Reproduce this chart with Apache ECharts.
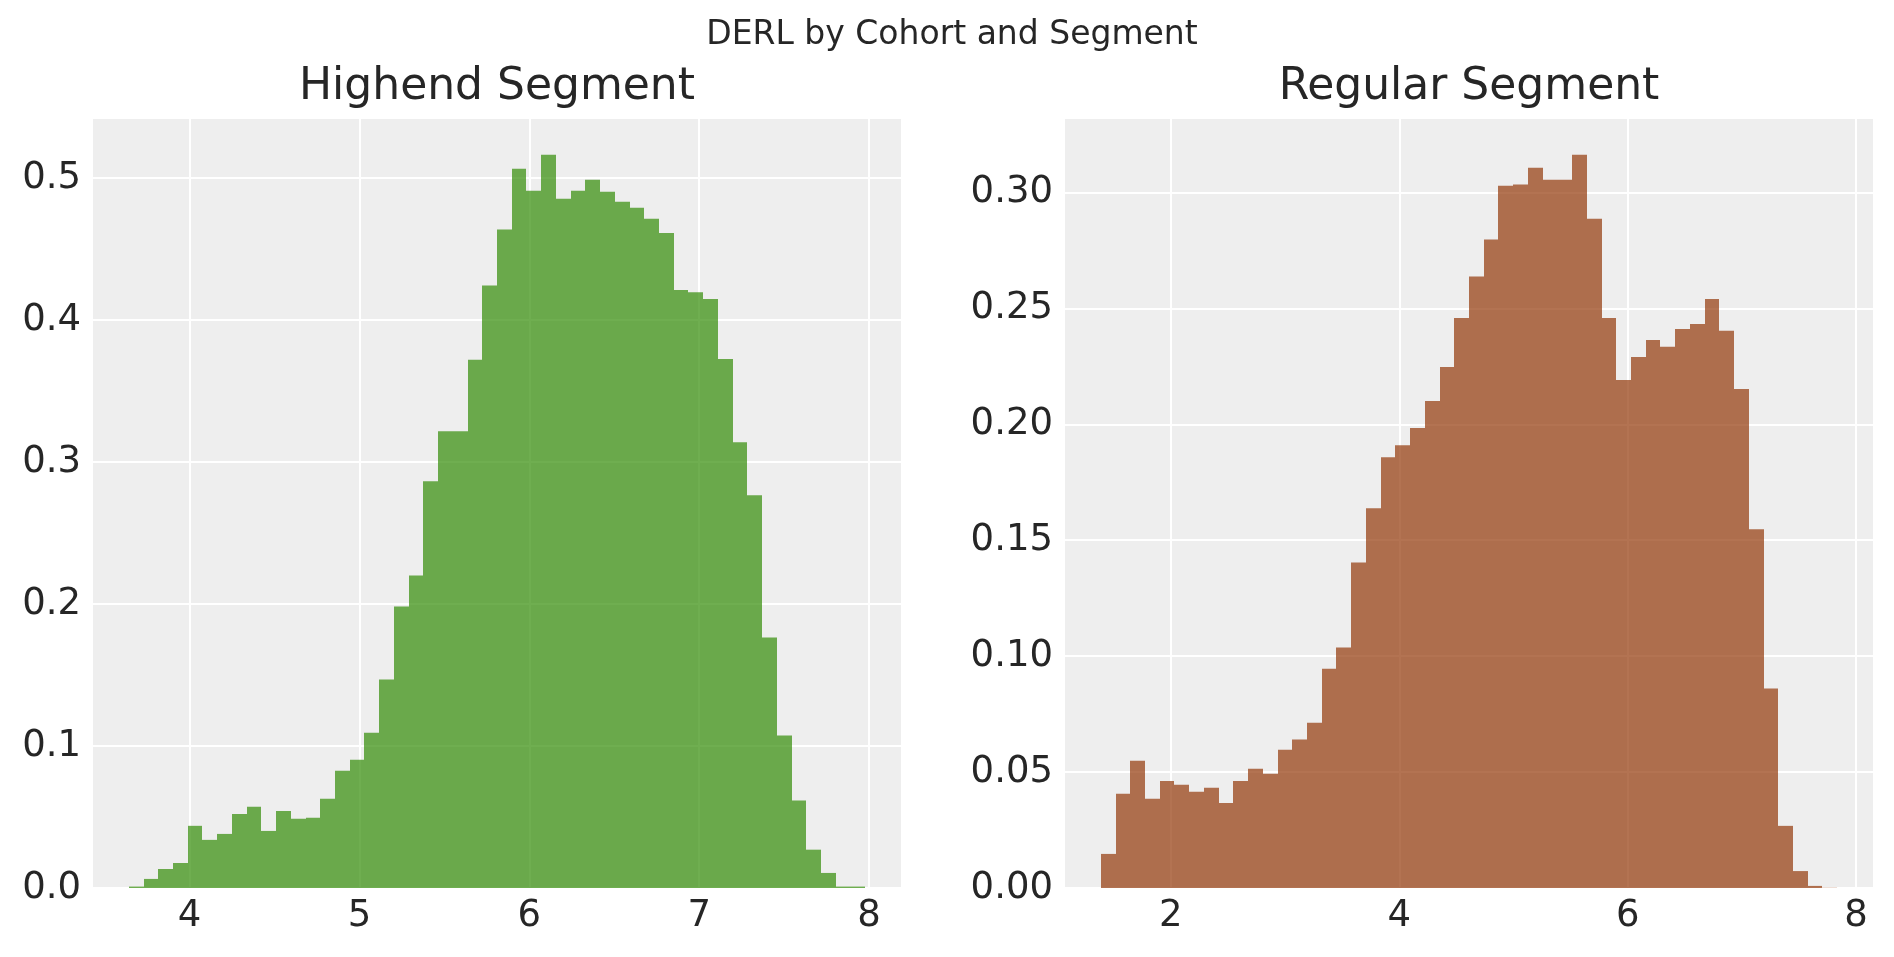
<!DOCTYPE html>
<html>
<head>
<meta charset="utf-8">
<title>DERL by Cohort and Segment</title>
<script src="https://cdn.jsdelivr.net/npm/echarts@6.0.0/dist/echarts.min.js"></script>
<style>
	html, body { margin: 0; padding: 0; background: #ffffff; }
	#chart { width: 1894px; height: 957px; }
</style>
</head>
<body>
<div id="chart"></div>
<script>
// histogram bin range (first edge, last edge) and density per bin
var highendBinRange = [3.642, 7.977];
var highendDensity = [
	0.001, 0.0064, 0.0134, 0.0176, 0.0438, 0.0339, 0.0381, 0.0522, 0.0572, 0.0402,
	0.0543, 0.0487, 0.0494, 0.0628, 0.0826, 0.0903, 0.1094, 0.1468, 0.1983, 0.2202,
	0.2865, 0.3218, 0.3218, 0.3721, 0.4244, 0.4639, 0.5067, 0.4912, 0.5166, 0.4855,
	0.4912, 0.4990, 0.4905, 0.4834, 0.4792, 0.4714, 0.4615, 0.4213, 0.4197, 0.4150,
	0.3726, 0.3140, 0.2766, 0.1764, 0.1075, 0.0616, 0.0270, 0.0106, 0.001, 0.001
];

var regularBinRange = [1.387, 7.834];
var regularDensity = [
	0.0147, 0.0406, 0.0549, 0.0385, 0.0462, 0.0445, 0.0415, 0.0432, 0.0367, 0.0462,
	0.0514, 0.0493, 0.0596, 0.0640, 0.0713, 0.0946, 0.1037, 0.1404, 0.1638, 0.1858,
	0.1910, 0.1984, 0.2100, 0.2247, 0.2459, 0.2637, 0.2797, 0.3029, 0.3034, 0.3107,
	0.3055, 0.3055, 0.3163, 0.2887, 0.2459, 0.2191, 0.2290, 0.2364, 0.2334, 0.2411,
	0.2433, 0.2541, 0.2403, 0.2152, 0.1547, 0.0860, 0.0268, 0.0073, 0.0009, 0.0001
];

var suptitle = 'DERL by Cohort and Segment';
var panelTitles = ['Highend Segment', 'Regular Segment'];
var panelColors = ['#328c06', '#933708'];

var FONT = 'DejaVu Sans';
var TEXT_COLOR = '#262626';

// turn a bin range + densities into [left edge, right edge, height] rows
function binRows(range, density) {
	var n = density.length;
	var w = (range[1] - range[0]) / n;
	return density.map(function(h, i) {
		return [range[0] + i * w, range[0] + (i + 1) * w, h];
	});
}

// matplotlib style 5% margins on x, 5% headroom on y
function xLimits(range) {
	var pad = (range[1] - range[0]) * 0.05;
	return [range[0] - pad, range[1] + pad];
}

function renderBin(color) {
	return function(params, api) {
		var p0 = api.coord([api.value(0), api.value(2)]);
		var p1 = api.coord([api.value(1), 0]);
		var x0 = Math.round(p0[0]), x1 = Math.round(p1[0]);
		return {
			type: 'rect',
			shape: { x: x0, y: p0[1], width: x1 - x0, height: p1[1] - p0[1] },
			style: { fill: color, opacity: 0.7 }
		};
	};
}

function makeXAxis(gridIndex, range, splitNumber) {
	var lim = xLimits(range);
	return {
		type: 'value',
		gridIndex: gridIndex,
		min: lim[0],
		max: lim[1],
		splitNumber: splitNumber,
		axisLine: { show: false },
		axisTick: { show: false },
		axisLabel: {
			showMinLabel: false,
			showMaxLabel: false,
			margin: 10,
			fontFamily: FONT,
			fontSize: 37,
			color: TEXT_COLOR,
			formatter: function(v) { return String(Math.round(v)); }
		},
		splitLine: { show: true, lineStyle: { color: '#ffffff', width: 2 } }
	};
}

function makeYAxis(gridIndex, density, splitNumber, digits) {
	return {
		type: 'value',
		gridIndex: gridIndex,
		min: 0,
		max: Math.max.apply(null, density) * 1.05,
		splitNumber: splitNumber,
		axisLine: { show: false },
		axisTick: { show: false },
		axisLabel: {
			showMaxLabel: false,
			margin: 11,
			padding: [5, 0, 0, 0],
			fontFamily: FONT,
			fontSize: 37,
			color: TEXT_COLOR,
			formatter: function(v) { return v.toFixed(digits); }
		},
		splitLine: { show: true, lineStyle: { color: '#ffffff', width: 2 } }
	};
}

var chart;

initChart();

function initChart() {
	chart = echarts.init(document.getElementById('chart'), null, { renderer: 'canvas' });
	var option = {
		animation: false,
		backgroundColor: '#ffffff',
		graphic: [{
			type: 'text', x: 952, y: 35,
			style: { text: suptitle, fontFamily: FONT, fontSize: 33, fill: TEXT_COLOR, align: 'center', verticalAlign: 'middle' }
		}, {
			type: 'text', x: 497, y: 87.5,
			style: { text: panelTitles[0], fontFamily: FONT, fontSize: 44, fill: TEXT_COLOR, align: 'center', verticalAlign: 'middle' }
		}, {
			type: 'text', x: 1469, y: 87.5,
			style: { text: panelTitles[1], fontFamily: FONT, fontSize: 44, fill: TEXT_COLOR, align: 'center', verticalAlign: 'middle' }
		}],
		grid: [{
			left: 92, top: 118, width: 810, height: 770,
			show: true, backgroundColor: '#eeeeee', borderWidth: 0,
			outerBoundsMode: 'none'
		}, {
			left: 1064, top: 118, width: 810, height: 770,
			show: true, backgroundColor: '#eeeeee', borderWidth: 0,
			outerBoundsMode: 'none'
		}],
		xAxis: [
			makeXAxis(0, highendBinRange, 5),
			makeXAxis(1, regularBinRange, 4)
		],
		yAxis: [
			makeYAxis(0, highendDensity, 5, 1),
			makeYAxis(1, regularDensity, 6, 2)
		],
		series: [{
			type: 'custom',
			name: panelTitles[0],
			xAxisIndex: 0,
			yAxisIndex: 0,
			renderItem: renderBin(panelColors[0]),
			encode: { x: [0, 1], y: 2 },
			data: binRows(highendBinRange, highendDensity)
		}, {
			type: 'custom',
			name: panelTitles[1],
			xAxisIndex: 1,
			yAxisIndex: 1,
			renderItem: renderBin(panelColors[1]),
			encode: { x: [0, 1], y: 2 },
			data: binRows(regularBinRange, regularDensity)
		}]
	};
	chart.setOption(option);
}
</script>
</body>
</html>
